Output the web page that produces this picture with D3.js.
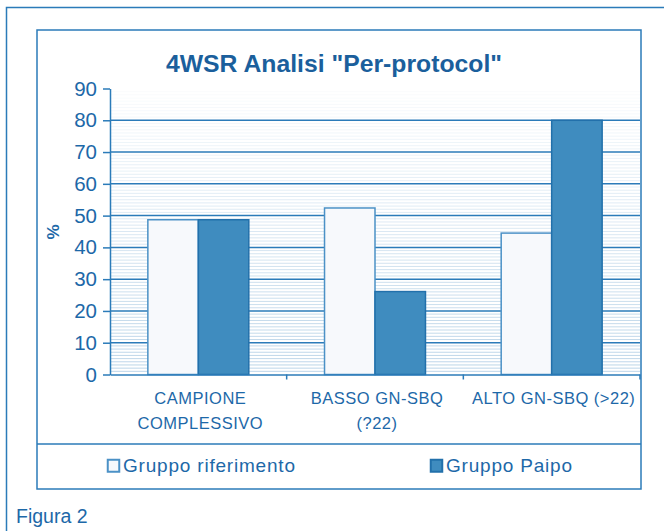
<!DOCTYPE html>
<html>
<head>
<meta charset="utf-8">
<script src="https://cdn.jsdelivr.net/npm/d3@7"></script>
<style>
  body { margin: 0; background: #fff; }
  svg { display: block; font-family: "Liberation Sans", Arial, sans-serif; }
</style>
</head>
<body>
<svg width="664" height="531"></svg>
<script>
const categories = [["CAMPIONE", "COMPLESSIVO"], ["BASSO GN-SBQ", "(?22)"], ["ALTO GN-SBQ (>22)"]];
const seriesNames = ["Gruppo riferimento", "Gruppo Paipo"];
const riferimento = [48.7, 52.4, 44.5];
const paipo = [48.7, 26.1, 80];
const yTicks = [0, 10, 20, 30, 40, 50, 60, 70, 80, 90];

const blue = "#2b7bb9";
const textBlue = "#1d68a8";
const fills = ["#f7f9fc", "#3f8cbf"];
const strokes = ["#4b91c6", "#2270ab"];

const svg = d3.select("svg");
const margin = { left: 110, right: 24, top: 88.5, bottom: 156.5 };
const width = 664 - margin.left - margin.right;
const height = 531 - margin.top - margin.bottom;

// frames
svg.append("path")
  .attr("d", "M6.5,531 V7.5 H664")
  .attr("fill", "none").attr("stroke", blue).attr("stroke-width", 1.5);
svg.append("rect")
  .attr("x", 37).attr("y", 30).attr("width", 604).attr("height", 459)
  .attr("fill", "#fff").attr("stroke", blue).attr("stroke-width", 1.5);
svg.append("line")
  .attr("x1", 37).attr("x2", 641).attr("y1", 444).attr("y2", 444)
  .attr("stroke", blue).attr("stroke-width", 1.5);

svg.append("text")
  .attr("x", 334).attr("y", 72)
  .attr("text-anchor", "middle")
  .attr("font-size", 24).attr("font-weight", "bold")
  .attr("fill", "#1b5f9c")
  .attr("textLength", 336)
  .attr("lengthAdjust", "spacingAndGlyphs")
  .text('4WSR Analisi "Per-protocol"');

const g = svg.append("g").attr("transform", "translate(" + margin.left + "," + margin.top + ")");

const x0 = d3.scaleBand().domain(d3.range(categories.length)).range([0, width]);
const x1 = d3.scaleBand().domain(seriesNames).range([0, x0.bandwidth()]).paddingOuter(0.75);
const y = d3.scaleLinear().domain([0, 90]).range([height, 0]);

// faint striped background
const minor = d3.range(1, 90).filter(v => v % 10 !== 0);
g.append("g").selectAll("line")
  .data(minor)
  .enter().append("line")
  .attr("x1", 0).attr("x2", width)
  .attr("y1", d => y(d)).attr("y2", d => y(d))
  .attr("stroke", "#a9c9e2")
  .attr("stroke-opacity", d => 0.8 - d / 120);

// major gridlines
g.append("g").selectAll("line")
  .data(yTicks.filter(v => v > 0 && v < 90))
  .enter().append("line")
  .attr("x1", 0).attr("x2", width)
  .attr("y1", d => y(d)).attr("y2", d => y(d))
  .attr("stroke", blue).attr("stroke-width", 1.5);

// bars
const rows = categories.map((c, i) => [riferimento[i], paipo[i]]);
const groups = g.selectAll(".grp")
  .data(rows)
  .enter().append("g")
  .attr("class", "grp")
  .attr("transform", (d, i) => "translate(" + x0(i) + ",0)");

groups.selectAll("rect")
  .data(d => d.map((v, k) => ({ k, v })))
  .enter().append("rect")
  .attr("x", d => x1(seriesNames[d.k]))
  .attr("width", x1.bandwidth())
  .attr("y", d => y(d.v))
  .attr("height", d => height - y(d.v))
  .attr("fill", d => fills[d.k])
  .attr("stroke", d => strokes[d.k])
  .attr("stroke-width", 1.5);

// y axis
const yAxis = g.append("g")
  .call(d3.axisLeft(y).tickValues(yTicks).tickSize(7).tickSizeOuter(0).tickPadding(6));
yAxis.select(".domain").attr("stroke", blue).attr("stroke-width", 1.5);
yAxis.selectAll(".tick line").attr("stroke", blue).attr("stroke-width", 1.5);
yAxis.selectAll(".tick text")
  .attr("fill", textBlue).attr("font-size", 20.5)
  .attr("font-family", "Liberation Sans, Arial, sans-serif");

// x axis
const xAxis = g.append("g")
  .attr("transform", "translate(0," + height + ")")
  .call(d3.axisBottom(x0).tickSize(0).tickFormat(""));
xAxis.select(".domain").attr("stroke", blue).attr("stroke-width", 1.5);
xAxis.selectAll(".tick line").remove();
xAxis.append("g").selectAll("line")
  .data(d3.range(1, categories.length + 1))
  .enter().append("line")
  .attr("x1", d => x0.step() * d).attr("x2", d => x0.step() * d)
  .attr("y1", 0).attr("y2", 5)
  .attr("stroke", blue).attr("stroke-width", 1.5);

const labels = g.append("g").selectAll("text")
  .data(categories)
  .enter().append("text")
  .attr("x", (d, i) => x0(i) + x0.bandwidth() / 2 + 2)
  .attr("y", height + 29)
  .attr("text-anchor", "middle")
  .attr("font-size", 16.5)
  .attr("letter-spacing", 0.5)
  .attr("fill", textBlue);
labels.selectAll("tspan")
  .data(d => d)
  .enter().append("tspan")
  .attr("x", function() { return d3.select(this.parentNode).attr("x"); })
  .attr("dy", (d, i) => i === 0 ? 0 : 25)
  .text(d => d);

// y title
svg.append("text")
  .attr("transform", "translate(59,232) rotate(-90)")
  .attr("text-anchor", "middle")
  .attr("font-size", 17).attr("font-weight", "bold")
  .attr("fill", textBlue)
  .text("%");

// legend
const legendX = [107, 430];
const leg = svg.append("g").selectAll("g")
  .data(seriesNames)
  .enter().append("g")
  .attr("transform", (d, i) => "translate(" + legendX[i] + ",459)");
leg.append("rect")
  .attr("x", 0.75).attr("y", 0.75).attr("width", 11.5).attr("height", 12)
  .attr("fill", (d, i) => fills[i])
  .attr("stroke", (d, i) => strokes[i]).attr("stroke-width", 2);
leg.append("text")
  .attr("x", 16).attr("y", 12.5)
  .attr("font-size", 19)
  .attr("letter-spacing", 0.8)
  .attr("fill", textBlue)
  .text(d => d);

svg.append("text")
  .attr("x", 16).attr("y", 523)
  .attr("font-size", 19.5)
  .attr("fill", textBlue)
  .text("Figura 2");
</script>
</body>
</html>
